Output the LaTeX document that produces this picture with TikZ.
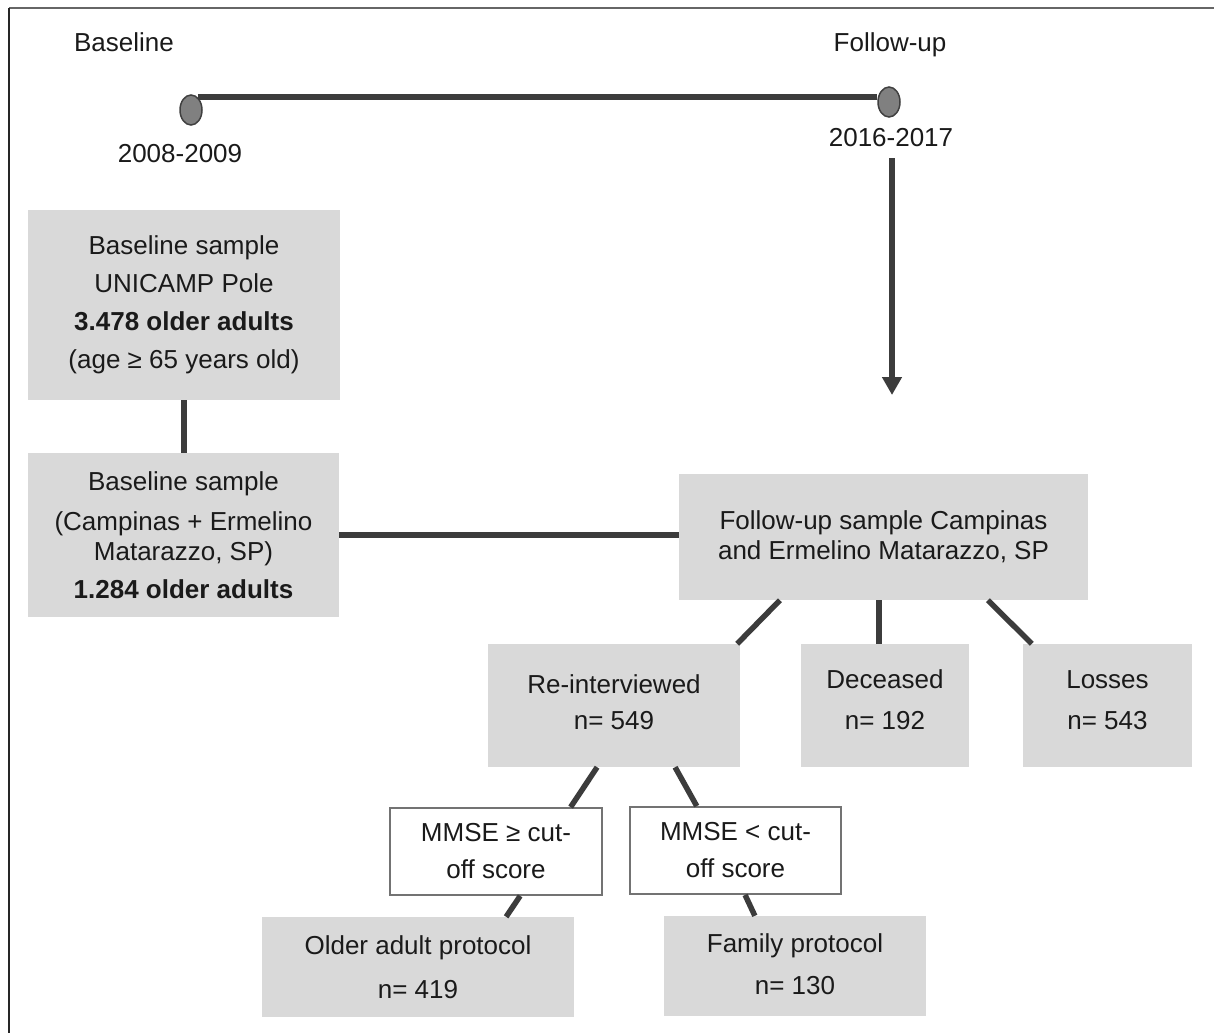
\documentclass[tikz,border=0pt]{standalone}
\usepackage{fontspec}
\setmainfont{Liberation Sans}
\usetikzlibrary{calc,arrows.meta,shapes.geometric}
\definecolor{boxgray}{HTML}{D9D9D9}
\definecolor{linegray}{HTML}{3C3C3C}
\definecolor{txt}{HTML}{1A1A1A}
\definecolor{dotgray}{HTML}{808080}
\begin{document}
\begin{tikzpicture}[x=1pt,y=-1pt,
  every node/.style={text=txt,font=\fontsize{26}{37}\selectfont},
  gbox/.style={fill=boxgray,inner sep=0pt,align=center},
  wbox/.style={fill=white,draw=gray!90!black,line width=1.8pt,inner sep=0pt,align=center},
  conn/.style={draw=linegray,line width=5.5pt},
  dot/.style={ellipse,fill=dotgray,draw=black!75,line width=1.5pt,minimum width=22pt,minimum height=30pt,inner sep=0pt},
  lbl/.style={anchor=base,inner sep=0pt}]
\useasboundingbox (0,0) rectangle (1214,1033);
\fill[white] (0,0) rectangle (1214,1033);
% frame
\draw[black!60,line width=2pt] (9,8) -- (1214,8);
\draw[black!85,line width=2pt] (9,8) -- (9,1033);

% timeline
\node[lbl] (tb) at (124,52) {Baseline};
\node[lbl] (tf) at (890,52) {Follow-up};
\node[lbl] (yb) at (180,162) {2008-2009};
\node[lbl] (yf) at (891,146) {2016-2017};
\node[dot] (b0) at (191,110) {};
\node[dot] (f0) at (889,102) {};
\draw[linegray,line width=5.5pt] (b0.62) -- (b0.62 -| f0.west);
\coordinate (ae) at (892,395);
\draw[linegray,line width=6.5pt,-{Triangle[length=18pt,width=19pt]}] (892,158) -- (ae);

% boxes
\node[gbox,minimum width=312pt,minimum height=190pt] (b1) at (184,305)
  {Baseline sample\\[1pt]UNICAMP Pole\\[1pt]\textbf{3.478 older adults}\\[1pt](age ≥ 65 years old)};
\node[gbox,minimum width=311pt,minimum height=164pt] (b2) at (183.5,535)
  {Baseline sample\\[3pt](Campinas + Ermelino\\[-7pt]Matarazzo, SP)\\[1pt]\textbf{1.284 older adults}};
\node[gbox,minimum width=409pt,minimum height=126pt] (fu) at (883.5,537)
  {Follow-up sample Campinas\\[-7pt]and Ermelino Matarazzo, SP};
\node[gbox,minimum width=252pt,minimum height=123pt,text depth=7pt] (re) at (614,705.5)
  {Re-interviewed\\[-1pt]n= 549};
\node[gbox,minimum width=168pt,minimum height=123pt,text depth=11pt] (de) at (885,705.5)
  {Deceased\\[4pt]n= 192};
\node[gbox,minimum width=169pt,minimum height=123pt,text depth=11pt] (lo) at (1107.5,705.5)
  {Losses\\[4pt]n= 543};
\node[wbox,minimum width=212pt,minimum height=87pt] (m1) at (496,851.5)
  {MMSE ≥ cut-\\off score};
\node[wbox,minimum width=211pt,minimum height=87pt] (m2) at (735.5,850.5)
  {MMSE < cut-\\off score};
\node[gbox,minimum width=312pt,minimum height=100pt] (ol) at (418,967)
  {Older adult protocol\\[7pt]n= 419};
\node[gbox,minimum width=262pt,minimum height=100pt,text depth=3pt] (fa) at (795,966)
  {Family protocol\\[5pt]n= 130};

% connectors
\draw[conn] (b1.south) -- (b1.south |- b2.north);
\draw[conn] (b2.east) -- (b2.east -| fu.west);
\draw[conn] ($(fu.south west)!0.247!(fu.south east)$) -- ($(re.north east)+(-3,0)$);
\draw[conn] ($(fu.south west)!0.489!(fu.south east)$) coordinate (fd) -- (fd |- de.north);
\draw[conn] ($(fu.south west)!0.755!(fu.south east)$) -- ($(lo.north west)+(9,0)$);
\draw[conn] ($(re.south west)!0.433!(re.south east)$) -- ($(m1.north west)!0.849!(m1.north east)$);
\draw[conn] ($(re.south west)!0.742!(re.south east)$) -- ($(m2.north west)!0.318!(m2.north east)$);
\draw[conn] ($(m1.south west)!0.613!(m1.south east)$) -- ($(ol.north west)!0.782!(ol.north east)$);
\draw[conn] ($(m2.south west)!0.545!(m2.south east)$) -- ($(fa.north west)!0.347!(fa.north east)$);
\end{tikzpicture}
\end{document}
